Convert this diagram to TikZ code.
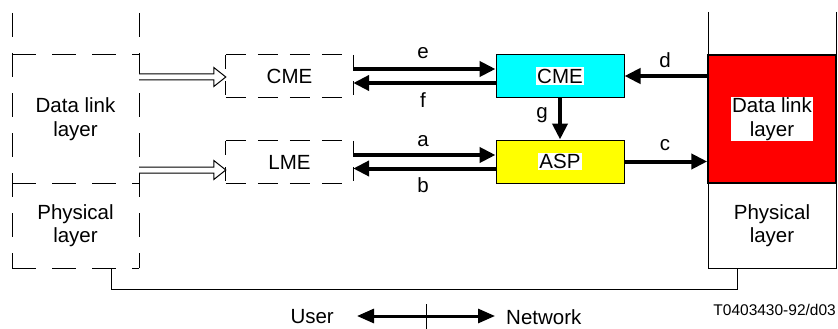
\documentclass[tikz,border=0pt]{standalone}
\usepackage{fontspec}
\setmainfont{Liberation Sans}
\usetikzlibrary{arrows.meta,calc}

\definecolor{cmecyan}{RGB}{0,255,255}
\definecolor{aspyellow}{RGB}{255,255,0}
\definecolor{dlred}{RGB}{255,0,0}

\tikzset{
  every node/.style={font=\fontsize{20.5}{23.5}\selectfont, align=center, inner sep=0pt},
  dashline/.style={line width=1pt, dash pattern=on 24pt off 16pt},
  solidbox/.style={draw, line width=1pt, inner sep=0pt},
  ghostbox/.style={inner sep=0pt},
  whitetag/.style={fill=white, inner sep=1.5pt},
  prim/.style={line width=4pt, -{Triangle[length=16pt,width=15pt]}},
  lbl/.style={inner sep=0pt},
  hollow/.style={line width=1pt, fill=white, line join=miter}
}

% open (outlined) block arrow between two points on the same height
\newcommand{\blockarrow}[2]{%
  \draw[hollow] let \p1=(#1), \p2=(#2) in
    (\x1,\y1+3pt) -- (\x2-12pt,\y1+3pt) -- (\x2-12pt,\y1+9.5pt)
    -- (\x2,\y1) -- (\x2-12pt,\y1-9.5pt) -- (\x2-12pt,\y1-3pt) -- (\x1,\y1-3pt);%
}

\begin{document}
\begin{tikzpicture}[x=1pt,y=-1pt]
\useasboundingbox (0,0) rectangle (838,329);

% ---- user side: layer stack drawn dashed
\node[ghostbox, minimum width=127pt, minimum height=128pt] (udl) at (75.5,119) {};
\node[ghostbox, minimum width=127pt, minimum height=85pt] (uph) at (75.5,225.5) {};
\draw[dashline] (12,13) -- (12,268);
\draw[dashline] (139,13) -- (139,268);
\draw[dashline] (12,55) -- (139,55);
\draw[dashline] (12,183) -- (139,183);
\draw[dashline] (12,268) -- (139,268);
\node[lbl] at (udl) {Data link\\layer};
\node[lbl] at (uph) {Physical\\layer};

% ---- user side management entities (dashed)
\node[ghostbox, minimum width=127pt, minimum height=42pt] (ucme) at (289.5,76) {};
\node[ghostbox, minimum width=127pt, minimum height=42pt] (ulme) at (289.5,162) {};
\foreach \b in {ucme,ulme}{
  \draw[dashline, dash pattern=on 20pt off 12pt]
    (\b.north west) -- (\b.north east);
  \draw[dashline, dash pattern=on 20pt off 12pt]
    (\b.south west) -- (\b.south east);
  \draw[dashline, dash pattern=on 14pt off 12pt]
    (\b.north west) -- (\b.south west);
  \draw[dashline, dash pattern=on 14pt off 12pt]
    (\b.north east) -- (\b.south east);
}
\node[lbl] at (ucme) {CME};
\node[lbl] at (ulme) {LME};

% open block arrows from the user data link layer
\coordinate (h1a) at (139,77);
\coordinate (h2a) at (139,170);
\blockarrow{h1a}{h1a -| ucme.west}
\blockarrow{h2a}{h2a -| ulme.west}

% ---- network side entities
\node[solidbox, fill=cmecyan, minimum width=128pt, minimum height=42pt] (ncme) at (560,76) {};
\node[solidbox, fill=aspyellow, minimum width=128pt, minimum height=43pt] (asp) at (560,161.5) {};
\node[whitetag] at (ncme) {CME};
\node[whitetag] at (asp) {ASP};

% ---- network side layer stack
\draw[line width=1pt] (708,12) -- (708,268);
\draw[line width=1pt] (836,12) -- (836,268);
\node[solidbox, fill=dlred, line width=1.5pt, minimum width=128pt, minimum height=128pt] (ndl) at (772,119) {};
\node[solidbox, minimum width=128pt, minimum height=85pt] (nph) at (772,225.5) {};
\node[whitetag, inner sep=1pt] at (ndl) {Data link\\layer};
\node[lbl] at (nph) {Physical\\layer};

% ---- primitives
\draw[prim] ([yshift=7pt]ucme.east) -- ([yshift=7pt]ucme.east -| ncme.west);
\draw[prim] ([yshift=-7pt]ncme.west) -- ([yshift=-7pt]ncme.west -| ucme.east);
\draw[prim] ([yshift=7pt]ulme.east) -- ([yshift=7pt]ulme.east -| asp.west);
\draw[prim] ([yshift=-7pt]asp.west) -- ([yshift=-7pt]asp.west -| ulme.east);
\draw[prim] (ncme.south) -- (asp.north);
\draw[prim] (ncme.east -| ndl.west) -- (ncme.east);
\draw[prim] (asp.east) -- (asp.east -| ndl.west);

\node[lbl] at (423,53) {e};
\node[lbl] at (423,100) {f};
\node[lbl] at (423,141) {a};
\node[lbl] at (423,185) {b};
\node[lbl] at (542,115) {g};
\node[lbl] at (665,60) {d};
\node[lbl] at (665,145) {c};

% ---- physical connection
\coordinate (pl) at (111,268);
\coordinate (pr) at (737,268);
\draw[line width=1pt] (pl) -- (pl |- 0,289) -- (pr |- 0,289) -- (pr);

% ---- user / network orientation
\node[lbl, anchor=east] (user) at (334,317) {User};
\node[lbl, anchor=west] (net) at (506,317) {Network};
\coordinate (ul) at (357,316);
\coordinate (ur) at (495,316);
\draw[line width=3pt, {Triangle[length=17pt,width=14pt]}-{Triangle[length=17pt,width=14pt]}] (ul) -- (ur);
\coordinate (tt) at (426,304);
\coordinate (tb) at (426,329);
\draw[line width=1pt] (tt) -- (tb);

\node[lbl, font=\fontsize{15.5}{18}\selectfont, anchor=east] (code) at (836,310) {T0403430-92/d03};
\end{tikzpicture}
\end{document}
